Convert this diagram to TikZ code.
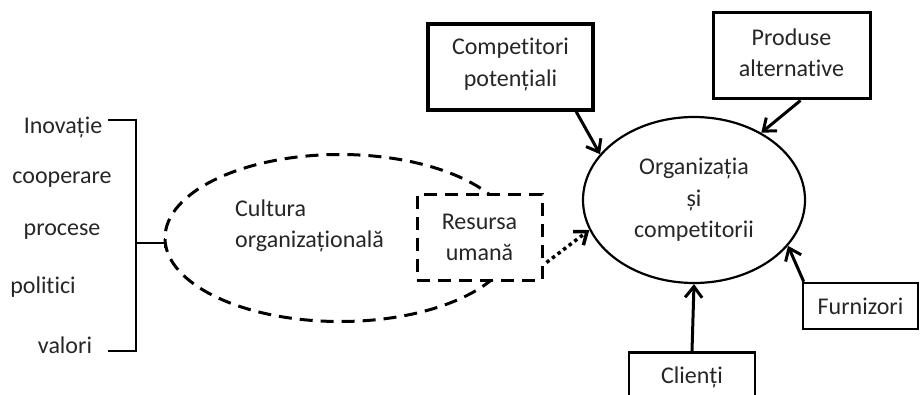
\documentclass[tikz,border=0pt]{standalone}
\usepackage{fontspec}
\setmainfont{Carlito}[Ligatures={NoCommon}]
\usetikzlibrary{arrows.meta,shapes.geometric,calc}
\begin{document}
\begin{tikzpicture}[x=1pt,y=-1pt,
  txt/.style={font=\fontsize{24}{31.5}\selectfont, text=black!85, inner sep=0pt, align=center},
  box/.style={draw, fill=white, inner sep=0pt, txt},
  dashline/.style={line width=3pt, dash pattern=on 13pt off 8pt},
  tip/.style={-{Straight Barb[length=11pt,width=17pt]}},
  arr/.style={line width=3pt, tip},
  brace/.style={line width=1.3pt}
]
\useasboundingbox (0,0) rectangle (920,395);

% ---- the left list of culture elements and its bracket
\node[txt] (ino) at (63,127) {Inovație};
\node[txt] (coop) at (62,180) {cooperare};
\node[txt] (proc) at (62,232) {procese};
\node[txt] (pol) at (43,287) {politici};
\node[txt] (val) at (65,345) {valori};
\coordinate (btop) at (108,120);
\coordinate (bbot) at (108,351);
\coordinate (bmid) at (136,243);
\coordinate (btip) at (165,243);
\draw[brace] (btop) -| (bbot -| bmid) -- (bbot);
\draw[brace, -{Bar[width=10pt,line width=1.3pt]}] (bmid) -- (btip);

% ---- organisational culture (dashed ellipse) and human resource
\node[ellipse, draw, dashline, minimum width=350pt, minimum height=167pt] (cult) at (340,238) {};
\node[txt, align=left, anchor=west] (ctext) at (235,226) {Cultura\\organizațională};
\node[box, dashline, minimum width=125pt, minimum height=85pt] (res) at (479.5,237.5) {Resursa\\umană};

% ---- the organisation and its competitive forces
\node[ellipse, draw, line width=2.2pt, minimum width=222pt, minimum height=166pt, txt] (org) at (694,200) {Organizația\\și\\competitorii};
\node[box, line width=3.5pt, minimum width=165pt, minimum height=86pt] (comp) at (510.5,67) {Competitori\\potențiali\vspace{5pt}};
\node[box, line width=3pt, minimum width=157pt, minimum height=86pt] (prod) at (791.5,56) {Produse\\alternative\vspace{6pt}};
\node[box, line width=2.5pt, minimum width=115pt, minimum height=46pt] (furn) at (860.5,306) {Furnizori};
\node[box, line width=2.5pt, minimum width=126pt, minimum height=50pt, anchor=north] (cli) at (692,351) {Clienți};

\draw[arr] ($(comp.south west)!0.89!(comp.south east)$) -- (org.154);
\draw[arr] ($(prod.south)+(9,0)$) -- (org.45);
\draw[arr] ($(furn.north west)+(2,0)$) -- (org.-26);
\draw[arr] (cli.north) -- (org.south);
\draw[line width=3.5pt, dash pattern=on 3.5pt off 3.5pt, tip]
  ($(res.east)+(3,25)$) -- (org.196);
\end{tikzpicture}
\end{document}
